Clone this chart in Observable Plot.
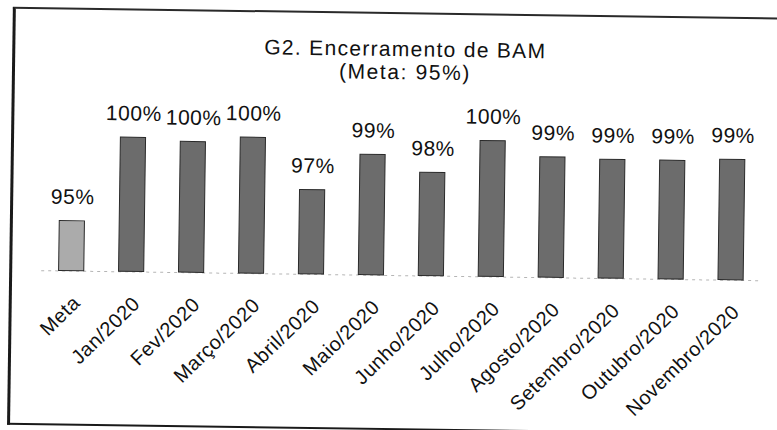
<!DOCTYPE html>
<html>
<head>
<meta charset="utf-8">
<script src="https://cdn.jsdelivr.net/npm/d3@7"></script>
<script src="https://cdn.jsdelivr.net/npm/@observablehq/plot@0.6"></script>
<style>
  html, body { margin: 0; padding: 0; background: #fff; overflow: hidden; }
  #page { position: relative; width: 777px; height: 430px; overflow: visible;
          transform: rotate(0.8deg); transform-origin: 388.5px 215px;
          font-family: "Liberation Sans", Arial, sans-serif; color: #111; }
  #frame { position: absolute; left: 10px; top: 12px; width: 900px; height: 414px;
           border-left: 3px solid #1a1a1a; border-top: 2px solid #2a2a2a; border-bottom: 2px solid #1a1a1a; }
  .ttl { position: absolute; left: 203px; width: 400px; text-align: center;
         font-size: 21px; line-height: 21px; white-space: nowrap; }
  #title1 { top: 37.5px; letter-spacing: 1.3px; }
  #title2 { top: 61px; letter-spacing: 1.6px; }
  #chart { position: absolute; left: 0; top: 0; }
  #chart svg text { letter-spacing: 0.5px; }
</style>
</head>
<body>
<div id="page">
  <div id="frame"></div>
  <div id="chart"></div>
  <div class="ttl" id="title1">G2. Encerramento de BAM</div>
  <div class="ttl" id="title2">(Meta: 95%)</div>
</div>
<script>
const months = ["Meta", "Jan/2020", "Fev/2020", "Março/2020", "Abril/2020", "Maio/2020",
  "Junho/2020", "Julho/2020", "Agosto/2020", "Setembro/2020", "Outubro/2020", "Novembro/2020"];
const values = [95.0, 99.9, 99.7, 100.0, 97.0, 99.1, 98.1, 100.0, 99.1, 99.0, 99.0, 99.1];
const valueLabels = ["95%", "100%", "100%", "100%", "97%", "99%", "98%", "100%", "99%", "99%", "99%", "99%"];
const kinds = ["Meta", "Realizado", "Realizado", "Realizado", "Realizado", "Realizado",
  "Realizado", "Realizado", "Realizado", "Realizado", "Realizado", "Realizado"];
const yMin = 92.1;
const yMax = 100.5;

const data = months.map((m, i) => ({month: m, value: values[i], label: valueLabels[i], kind: kinds[i]}));

const chart = Plot.plot({
  width: 777,
  height: 430,
  marginLeft: 42,
  marginRight: 15.6,
  marginTop: 0,
  marginBottom: 155,
  x: {domain: months, paddingInner: 0.58, paddingOuter: 0.29, round: false, axis: null},
  y: {domain: [yMin, yMax], range: [275, 275 - (yMax - yMin) * 17.2], clamp: true, axis: null},
  color: {domain: ["Meta", "Realizado"], range: ["#ababab", "#6c6c6c"]},
  style: {fontFamily: "'Liberation Sans', Arial, sans-serif", background: "transparent", overflow: "visible", color: "#111"},
  marks: [
    Plot.ruleY([yMin], {stroke: "#b5b5b5", strokeDasharray: "3,4"}),
    Plot.barY(data, {x: "month", y: "value", fill: "kind", stroke: "#2a2a2a", strokeWidth: 1}),
    Plot.text(data, {x: "month", y: "value", text: "label", dy: -24, fontSize: 21, fill: "#111"}),
    Plot.axisX({tickRotate: -45, tickSize: 0, tickPadding: 28.5, fontSize: 20, dx: 5.5, label: null, fill: "#111"})
  ]
});
document.getElementById("chart").appendChild(chart);
</script>
</body>
</html>
